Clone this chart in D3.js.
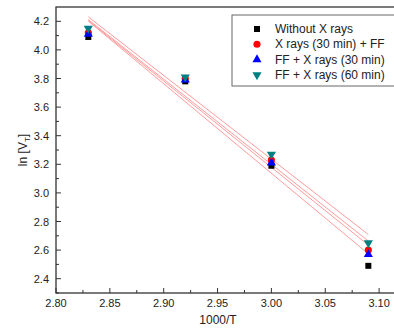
<!DOCTYPE html>
<meta charset="utf-8">
<style>
  body { margin: 0; overflow: hidden; background: #fff; }
  text { font-family: "Liberation Sans", Arial, sans-serif; fill: #222; }
</style>
<script src="https://d3js.org/d3.v7.min.js"></script>
<div id="chart"></div>
<script>
// values
const xValues = [2.83, 2.92, 3.00, 3.09];
const withoutXrays = [4.09, 3.78, 3.19, 2.49];
const xrays30FF = [4.12, 3.80, 3.23, 2.60];
const ffXrays30 = [4.11, 3.79, 3.21, 2.57];
const ffXrays60 = [4.15, 3.81, 3.27, 2.65];
const seriesNames = ["Without X rays", "X rays (30 min) + FF", "FF + X rays (30 min)", "FF + X rays (60 min)"];
const xTicks = [2.80, 2.85, 2.90, 2.95, 3.00, 3.05, 3.10];
const yTicks = [2.4, 2.6, 2.8, 3.0, 3.2, 3.4, 3.6, 3.8, 4.0, 4.2];

const W = 394, H = 328;
const plotLeft = 56, plotTop = 7, plotBottom = 293;

const series = [
  { name: seriesNames[0], values: withoutXrays, color: "#000000", symbol: d3.symbolSquare, size: 36, rot: 0 },
  { name: seriesNames[1], values: xrays30FF, color: "#ff0000", symbol: d3.symbolCircle, size: 40, rot: 0 },
  { name: seriesNames[2], values: ffXrays30, color: "#0000ff", symbol: d3.symbolTriangle, size: 36, rot: 0 },
  { name: seriesNames[3], values: ffXrays60, color: "#008080", symbol: d3.symbolTriangle, size: 36, rot: 180 }
];

const x = d3.scaleLinear().domain([2.80, 3.125]).range([plotLeft, plotLeft + 0.325 * 1077]);
const y = d3.scaleLinear().domain([2.30, 4.30]).range([plotBottom, plotTop]);

const svg = d3.select("#chart").append("svg")
  .attr("width", W).attr("height", H);

// least squares fit for each series
function fit(xs, ys) {
  const mx = d3.mean(xs), my = d3.mean(ys);
  let sxy = 0, sxx = 0;
  xs.forEach((v, i) => { sxy += (v - mx) * (ys[i] - my); sxx += (v - mx) * (v - mx); });
  const b = sxy / sxx;
  return t => my + b * (t - mx);
}

const x0 = d3.min(xValues), x1 = d3.max(xValues);
series.forEach(s => {
  const f = fit(xValues, s.values);
  svg.append("line")
    .attr("x1", x(x0)).attr("y1", y(f(x0)))
    .attr("x2", x(x1)).attr("y2", y(f(x1)))
    .attr("stroke", "#ff9c9c").attr("stroke-width", 1);
});

// frame
svg.append("rect")
  .attr("x", plotLeft).attr("y", plotTop)
  .attr("width", x.range()[1] - plotLeft).attr("height", plotBottom - plotTop)
  .attr("fill", "none").attr("stroke", "#333").attr("stroke-width", 1.3);

// ticks pointing inward
const xMinor = d3.range(2.825, 3.125, 0.05);
const yMinor = d3.range(2.3, 4.3, 0.2);
const tk = svg.append("g").attr("stroke", "#333").attr("stroke-width", 1);
xTicks.forEach(t => tk.append("line").attr("x1", x(t)).attr("x2", x(t)).attr("y1", plotBottom).attr("y2", plotBottom - 5));
xMinor.forEach(t => tk.append("line").attr("x1", x(t)).attr("x2", x(t)).attr("y1", plotBottom).attr("y2", plotBottom - 3));
yTicks.forEach(t => tk.append("line").attr("x1", plotLeft).attr("x2", plotLeft + 5).attr("y1", y(t)).attr("y2", y(t)));
yMinor.forEach(t => tk.append("line").attr("x1", plotLeft).attr("x2", plotLeft + 3).attr("y1", y(t)).attr("y2", y(t)));

svg.append("g").selectAll("text").data(xTicks).join("text")
  .attr("x", d => x(d)).attr("y", plotBottom + 14)
  .attr("text-anchor", "middle").attr("font-size", 11)
  .text(d => d.toFixed(2));

svg.append("g").selectAll("text").data(yTicks).join("text")
  .attr("x", plotLeft - 7).attr("y", d => y(d) + 4)
  .attr("text-anchor", "end").attr("font-size", 11)
  .text(d => d.toFixed(1));

// axis titles
svg.append("text")
  .attr("x", 218).attr("y", 324)
  .attr("text-anchor", "middle").attr("font-size", 12)
  .text("1000/T");

const yl = svg.append("text")
  .attr("transform", "translate(27," + ((plotTop + plotBottom) / 2) + ") rotate(-90)")
  .attr("text-anchor", "middle").attr("font-size", 12);
yl.append("tspan").text("ln [V");
yl.append("tspan").attr("font-size", 8).attr("dy", 3).text("T");
yl.append("tspan").attr("dy", -3).text("]");

// markers
series.forEach(s => {
  svg.append("g").selectAll("path").data(s.values).join("path")
    .attr("d", d3.symbol().type(s.symbol).size(s.size))
    .attr("transform", (d, i) => "translate(" + x(xValues[i]) + "," + y(d) + ") rotate(" + s.rot + ")")
    .attr("fill", s.color);
});

// legend
const lg = svg.append("g");
lg.append("rect")
  .attr("x", 232).attr("y", 15).attr("width", 180).attr("height", 71)
  .attr("fill", "#fff").attr("stroke", "#666").attr("stroke-width", 1);
series.forEach((s, i) => {
  const ly = 29 + i * 15.3;
  lg.append("path")
    .attr("d", d3.symbol().type(s.symbol).size(s.size))
    .attr("transform", "translate(257," + ly + ") rotate(" + s.rot + ")")
    .attr("fill", s.color);
  lg.append("text")
    .attr("x", 275).attr("y", ly + 4)
    .attr("font-size", 12)
    .text(s.name);
});
</script>
